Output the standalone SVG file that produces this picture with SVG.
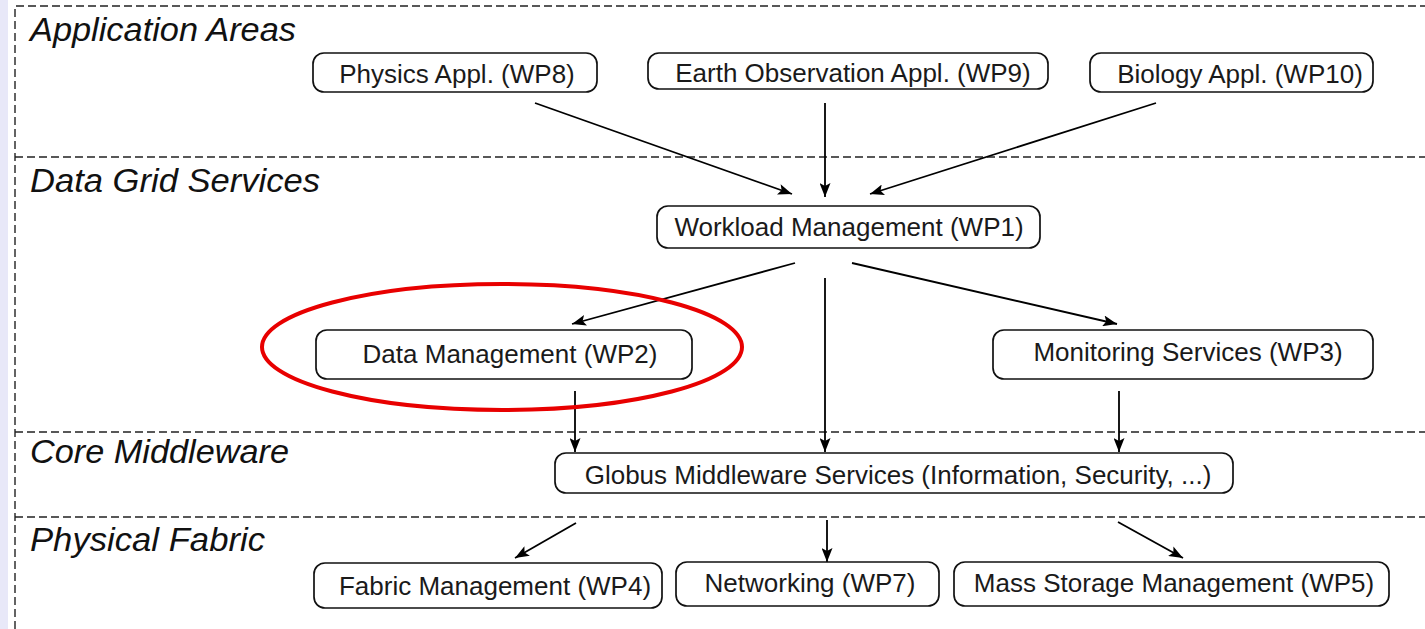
<svg xmlns="http://www.w3.org/2000/svg" width="1425" height="629" viewBox="0 0 1425 629">
<defs>
<marker id="ah" viewBox="0 0 14 11" refX="14" refY="5.5" markerWidth="14" markerHeight="11" markerUnits="userSpaceOnUse" orient="auto">
<path d="M0,0 L14,5.5 L0,11 L3,5.5 Z" fill="#000"/>
</marker>
</defs>
<style>
.layer{fill:none;stroke:#222;stroke-width:1.4;stroke-dasharray:8 4}
.lbl{font-family:"Liberation Sans",Arial,sans-serif;font-style:italic;font-size:34px;fill:#111}
.box{fill:#fff;stroke:#111;stroke-width:1.7}
.txt{font-family:"Liberation Sans",Arial,sans-serif;font-size:26px;fill:#1a1a1a;text-anchor:middle}
.con{fill:none;stroke:#000;stroke-width:1.8;marker-end:url(#ah)}
</style>
<rect x="0" y="0" width="1425" height="629" fill="#fff"/>
<rect x="0" y="0" width="8" height="629" fill="#e8e8f8"/>
<g id="layers">
<path class="layer" d="M15,629 L15,6 L1425,6"/>
<path class="layer" d="M15,157 L1425,157"/>
<path class="layer" d="M15,432 L1425,432"/>
<path class="layer" d="M15,517 L1425,517"/>
<text class="lbl" x="30" y="41" textLength="266" lengthAdjust="spacingAndGlyphs">Application Areas</text>
<text class="lbl" x="30" y="192" textLength="290" lengthAdjust="spacingAndGlyphs">Data Grid Services</text>
<text class="lbl" x="30" y="463" textLength="259" lengthAdjust="spacingAndGlyphs">Core Middleware</text>
<text class="lbl" x="30" y="551" textLength="235" lengthAdjust="spacingAndGlyphs">Physical Fabric</text>
</g>
<g id="connectors">
<line class="con" x1="535" y1="103" x2="792" y2="194"/>
<line class="con" x1="825" y1="103" x2="825" y2="197"/>
<line class="con" x1="1156" y1="103" x2="870" y2="194"/>
<line class="con" x1="795" y1="263" x2="572" y2="324"/>
<line class="con" x1="825" y1="278" x2="825" y2="452"/>
<line class="con" x1="852" y1="263" x2="1117" y2="324"/>
<line class="con" x1="575" y1="391" x2="575" y2="452"/>
<line class="con" x1="1119" y1="391" x2="1119" y2="452"/>
<line class="con" x1="576" y1="523" x2="515" y2="558"/>
<line class="con" x1="827" y1="520" x2="827" y2="562"/>
<line class="con" x1="1118" y1="522" x2="1183" y2="558"/>
</g>
<g id="physics"><rect class="box" x="313" y="53" width="284" height="39" rx="11"/><text class="txt" x="457" y="83">Physics Appl. (WP8)</text></g>
<g id="earth"><rect class="box" x="648" y="53" width="400" height="36" rx="11"/><text class="txt" x="853" y="82">Earth Observation Appl. (WP9)</text></g>
<g id="biology"><rect class="box" x="1090" y="53" width="283" height="39" rx="11"/><text class="txt" x="1240" y="83">Biology Appl. (WP10)</text></g>
<g id="workload"><rect class="box" x="657" y="206" width="383" height="42" rx="11"/><text class="txt" x="849" y="236">Workload Management (WP1)</text></g>
<g id="datamgmt"><rect class="box" x="316" y="330" width="376" height="49" rx="11"/><text class="txt" x="510" y="363">Data Management (WP2)</text></g>
<g id="monitoring"><rect class="box" x="993" y="330" width="380" height="49" rx="11"/><text class="txt" x="1188" y="361">Monitoring Services (WP3)</text></g>
<g id="globus"><rect class="box" x="555" y="453" width="678" height="40" rx="11"/><text class="txt" x="898" y="484">Globus Middleware Services (Information, Security, ...)</text></g>
<g id="fabric"><rect class="box" x="314" y="563" width="348" height="45" rx="11"/><text class="txt" x="495" y="595">Fabric Management (WP4)</text></g>
<g id="networking"><rect class="box" x="676" y="562" width="263" height="44" rx="11"/><text class="txt" x="810" y="592">Networking (WP7)</text></g>
<g id="massstorage"><rect class="box" x="954" y="562" width="435" height="44" rx="11"/><text class="txt" x="1174" y="592">Mass Storage Management (WP5)</text></g>
<ellipse id="highlight" cx="502" cy="347" rx="240" ry="63" fill="none" stroke="#e80000" stroke-width="4"/>
</svg>
